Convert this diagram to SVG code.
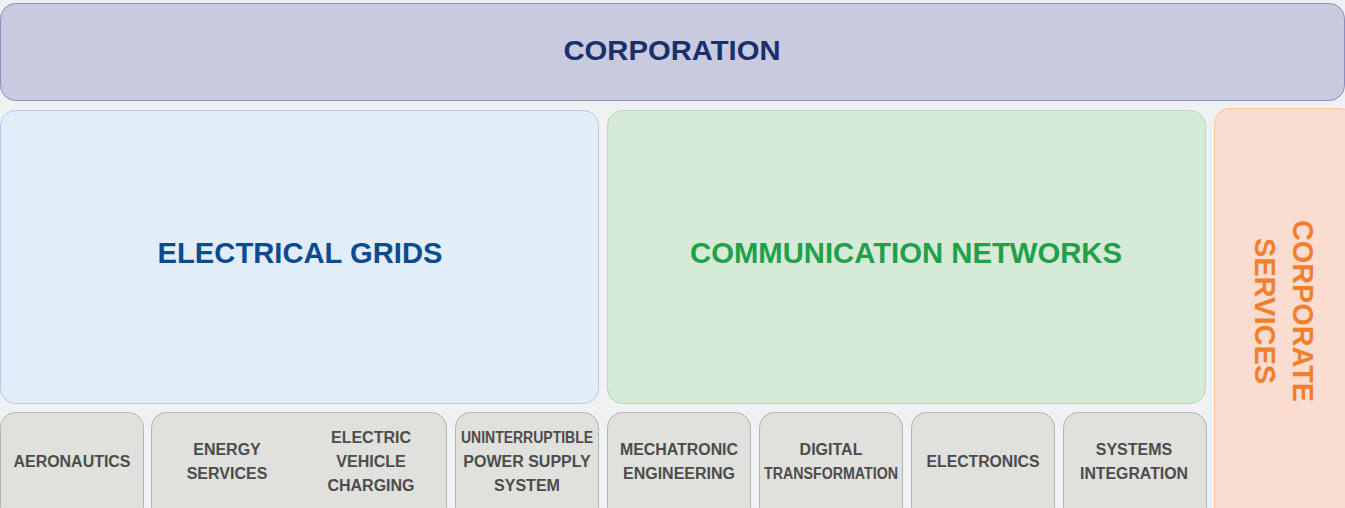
<svg xmlns="http://www.w3.org/2000/svg" width="1345" height="508" viewBox="0 0 1345 508">
  <style>
    text { font-family: "Liberation Sans", Arial, sans-serif; font-weight: bold; text-anchor: middle; }
    .unit { fill: #e0e0dc; stroke: #b4b4b4; stroke-width: 1; }
    .unit-label { font-size: 16px; fill: #4c4c4c; }
    .big { font-size: 29px; }
  </style>
  <rect x="0" y="0" width="1345" height="508" fill="#f0f1f3"/>

  <g id="corporation">
    <rect x="0.5" y="3.5" width="1344" height="97" rx="15" fill="#c8cadf" stroke="#8a8fbf"/>
    <text x="672" y="60" font-size="28" fill="#1a2f6b" textLength="217" lengthAdjust="spacingAndGlyphs">CORPORATION</text>
  </g>

  <g id="electrical-grids">
    <rect x="0.5" y="110.5" width="598" height="293" rx="15" fill="#e1edf7" stroke="#b9c8e8"/>
    <text class="big" x="300" y="263" fill="#0d4a8f" textLength="285" lengthAdjust="spacingAndGlyphs">ELECTRICAL GRIDS</text>
  </g>

  <g id="communication-networks">
    <rect x="607.5" y="110.5" width="598" height="293" rx="15" fill="#d6ead8" stroke="#b5d9b9"/>
    <text class="big" x="906" y="263" fill="#21a04a" textLength="432" lengthAdjust="spacingAndGlyphs">COMMUNICATION NETWORKS</text>
  </g>

  <g id="corporate-services">
    <rect x="1214.5" y="108.5" width="140" height="420" rx="15" fill="#fbdcd1" stroke="#f9c4a0"/>
    <g transform="translate(1284 311) rotate(90)" fill="#f07f2c" font-size="29">
      <text x="0" y="-9" textLength="182" lengthAdjust="spacingAndGlyphs">CORPORATE</text>
      <text x="0" y="29">SERVICES</text>
    </g>
  </g>

  <g id="aeronautics">
    <rect class="unit" x="0.5" y="412.5" width="143" height="110" rx="15"/>
    <text class="unit-label" x="72" y="467" textLength="117" lengthAdjust="spacingAndGlyphs">AERONAUTICS</text>
  </g>

  <g id="energy-services">
    <rect class="unit" x="151.5" y="412.5" width="295" height="110" rx="15"/>
    <text class="unit-label" x="227" y="455">ENERGY</text>
    <text class="unit-label" x="227" y="479">SERVICES</text>
    <text class="unit-label" x="371" y="443">ELECTRIC</text>
    <text class="unit-label" x="371" y="467">VEHICLE</text>
    <text class="unit-label" x="371" y="491">CHARGING</text>
  </g>

  <g id="ups">
    <rect class="unit" x="455.5" y="412.5" width="143" height="110" rx="15"/>
    <text class="unit-label" x="527" y="443" textLength="132" lengthAdjust="spacingAndGlyphs">UNINTERRUPTIBLE</text>
    <text class="unit-label" x="527" y="467">POWER SUPPLY</text>
    <text class="unit-label" x="527" y="491">SYSTEM</text>
  </g>

  <g id="mechatronic-engineering">
    <rect class="unit" x="607.5" y="412.5" width="143" height="110" rx="15"/>
    <text class="unit-label" x="679" y="455" textLength="118" lengthAdjust="spacingAndGlyphs">MECHATRONIC</text>
    <text class="unit-label" x="679" y="479">ENGINEERING</text>
  </g>

  <g id="digital-transformation">
    <rect class="unit" x="759.5" y="412.5" width="143" height="110" rx="15"/>
    <text class="unit-label" x="831" y="455">DIGITAL</text>
    <text class="unit-label" x="831" y="479" textLength="134" lengthAdjust="spacingAndGlyphs">TRANSFORMATION</text>
  </g>

  <g id="electronics">
    <rect class="unit" x="911.5" y="412.5" width="143" height="110" rx="15"/>
    <text class="unit-label" x="983" y="467" textLength="113" lengthAdjust="spacingAndGlyphs">ELECTRONICS</text>
  </g>

  <g id="systems-integration">
    <rect class="unit" x="1063.5" y="412.5" width="143" height="110" rx="15"/>
    <text class="unit-label" x="1134" y="455">SYSTEMS</text>
    <text class="unit-label" x="1134" y="479" textLength="108" lengthAdjust="spacingAndGlyphs">INTEGRATION</text>
  </g>

  <g id="connectors"></g>
</svg>
